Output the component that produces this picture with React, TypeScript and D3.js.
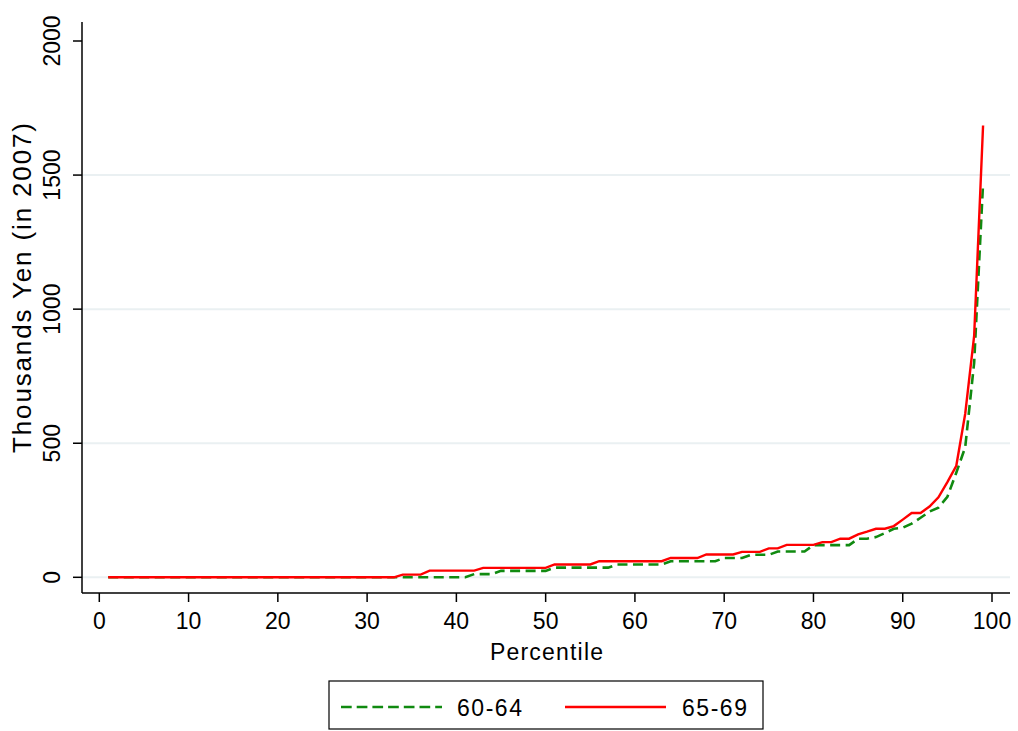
import React from "react";
import * as d3 from "d3";

const percentiles: number[] = Array.from({ length: 99 }, (_, i) => i + 1);

// 60-64 (green dashed), values by percentile 1..99
const green6064: number[] = [
  ...Array(41).fill(0), // 1-41
  12, 12, 12, // 42-44
  24, 24, 24, 24, 24, 24, // 45-50
  36, 36, 36, 36, 36, 36, 36, // 51-57
  48, 48, 48, 48, 48, 48, // 58-63
  60, 60, 60, 60, 60, 60, // 64-69
  72, 72, 72, // 70-72
  84, 84, 84, // 73-75
  96, 96, 96, 96, // 76-79
  120, 120, 120, 120, 120, // 80-84
  144, 144, 150, 165, 181, 185, 200, 222, 245, 260, // 85-94
  300, 390, 485, 800, 1470, // 95-99
];

// 65-69 (red solid)
const red6569: number[] = [
  ...Array(33).fill(0), // 1-33
  10, 10, 10, // 34-36
  25, 25, 25, 25, 25, 25, // 37-42
  35, 35, 35, 35, 35, 35, 35, 35, // 43-50
  48, 48, 48, 48, 48, // 51-55
  60, 60, 60, 60, 60, 60, 60, 60, // 56-63
  72, 72, 72, 72, // 64-67
  85, 85, 85, 85, // 68-71
  95, 95, 95, // 72-74
  108, 108, // 75-76
  121, 121, 121, 121, // 77-80
  131, 131, // 81-82
  144, 144, // 83-84
  160, 170, 181, 181, 191, 215, 240, 240, 264, 298, // 85-94
  355, 416, 610, 900, 1685, // 95-99
];

const xTicks = [0, 10, 20, 30, 40, 50, 60, 70, 80, 90, 100];
const yTicks = [0, 500, 1000, 1500, 2000];
const yGrid = [0, 500, 1000, 1500];
const seriesNames = ["60-64", "65-69"];

export default function App() {
  const W = 1018, H = 731;
  const x = d3.scaleLinear().domain([0, 100]).range([99.3, 992]);
  const y = d3.scaleLinear().domain([0, 2000]).range([577.3, 41]);
  const axisLeft = 82, axisRight = 1010, axisTop = 22, axisBottom = 593;
  const font = "'Liberation Sans', Arial, Helvetica, sans-serif";
  const fs = 23;

  const line = d3
    .line<number>()
    .x((_, i) => x(percentiles[i]))
    .y((d) => y(d));

  return (
    <svg
      width={W}
      height={H}
      style={{ position: "absolute", left: 0, top: 0, background: "#fff" }}
      fontFamily={font}
    >
      <rect x={0} y={0} width={W} height={H} fill="#fff" />
      {yGrid.map((t) => (
        <line key={"g" + t} x1={axisLeft} x2={axisRight} y1={y(t)} y2={y(t)} stroke="#eaf0f2" strokeWidth={2} />
      ))}
      <path d={line(green6064) || ""} fill="none" stroke="#108a10" strokeWidth={2.6} strokeDasharray="10,5.5" />
      <path d={line(red6569) || ""} fill="none" stroke="#ff0000" strokeWidth={2.4} />
      <line x1={axisLeft} x2={axisLeft} y1={axisTop} y2={axisBottom} stroke="#000" strokeWidth={1.5} />
      <line x1={axisLeft} x2={axisRight} y1={axisBottom} y2={axisBottom} stroke="#000" strokeWidth={1.5} />
      {yTicks.map((t) => (
        <g key={"y" + t}>
          <line x1={axisLeft - 9} x2={axisLeft} y1={y(t)} y2={y(t)} stroke="#000" strokeWidth={1.5} />
          <text transform={`translate(${60},${y(t)}) rotate(-90)`} textAnchor="middle" fontSize={fs} fill="#000">
            {t}
          </text>
        </g>
      ))}
      {xTicks.map((t) => (
        <g key={"x" + t}>
          <line x1={x(t)} x2={x(t)} y1={axisBottom} y2={axisBottom + 9} stroke="#000" strokeWidth={1.5} />
          <text x={x(t)} y={629} textAnchor="middle" fontSize={fs} fill="#000">
            {t}
          </text>
        </g>
      ))}
      <text x={490} y={660} fontSize={fs} fill="#000" textLength={113} lengthAdjust="spacing">
        Percentile
      </text>
      <text
        transform={`translate(${31},${288}) rotate(-90)`}
        textAnchor="middle"
        fontSize={26}
        fill="#000"
        textLength={330}
        lengthAdjust="spacing"
      >
        Thousands Yen (in 2007)
      </text>
      <rect x={329} y={681} width={434} height={48} fill="#fff" stroke="#000" strokeWidth={1.2} />
      <line x1={341} x2={442} y1={707} y2={707} stroke="#108a10" strokeWidth={2.6} strokeDasharray="10.7,5" />
      <text x={457} y={716} fontSize={fs} fill="#000" textLength={65} lengthAdjust="spacing">
        {seriesNames[0]}
      </text>
      <line x1={565} x2={666} y1={707} y2={707} stroke="#ff0000" strokeWidth={2.4} />
      <text x={682} y={716} fontSize={fs} fill="#000" textLength={65} lengthAdjust="spacing">
        {seriesNames[1]}
      </text>
    </svg>
  );
}
